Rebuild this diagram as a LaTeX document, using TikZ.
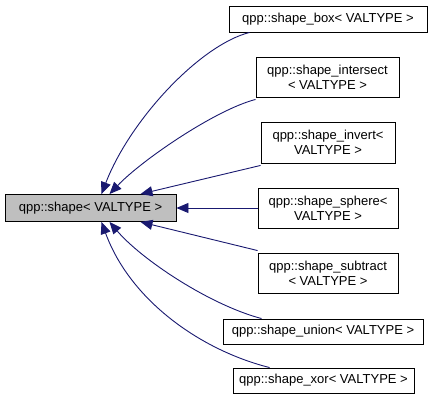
\documentclass[tikz,border=0pt]{standalone}
\usepackage{fontspec}
\setmainfont{Liberation Sans}
\usetikzlibrary{arrows.meta}
\definecolor{edgeblue}{HTML}{191970}
\tikzset{
  cls/.style={draw=black, line width=0.9pt, fill=white, inner sep=0pt, align=center,
    font=\fontsize{13}{15}\selectfont},
  edge/.style={draw=edgeblue, line width=0.9pt, -{Triangle[length=12pt,width=10pt]}},
}
\begin{document}
\begin{tikzpicture}[x=1pt,y=-1pt]
\useasboundingbox (0,0) rectangle (437,401);
\node[cls, fill={rgb,255:red,191;green,191;blue,191}, minimum width=171pt, minimum height=27pt] (base) at (90.5,208) {qpp::shape{<} VALTYPE {>}};
\node[cls, minimum width=198pt, minimum height=26pt] (box) at (328,19) {qpp::shape\_box{<} VALTYPE {>}};
\node[cls, minimum width=143pt, minimum height=40pt] (int) at (327.5,77) {qpp::shape\_intersect\\{<} VALTYPE {>}};
\node[cls, minimum width=134pt, minimum height=41pt] (inv) at (328,142.5) {qpp::shape\_invert{<}\\VALTYPE {>}};
\node[cls, minimum width=140pt, minimum height=40pt] (sph) at (328,208) {qpp::shape\_sphere{<}\\VALTYPE {>}};
\node[cls, minimum width=140pt, minimum height=40pt] (sub) at (328,273) {qpp::shape\_subtract\\{<} VALTYPE {>}};
\node[cls, minimum width=200pt, minimum height=25pt] (uni) at (323,331.5) {qpp::shape\_union{<} VALTYPE {>}};
\node[cls, minimum width=181pt, minimum height=25pt] (xor) at (323.5,380.5) {qpp::shape\_xor{<} VALTYPE {>}};

\draw[edge] ([xshift=21pt]box.south west) .. controls (200,45) and (130,120) .. ([xshift=11pt]base.north);
\draw[edge] ([yshift=-2pt]int.south west) .. controls (215,110) and (142,160) .. ([xshift=19pt]base.north);
\draw[edge] ([yshift=-2pt]inv.south west) -- ([xshift=50pt]base.north);
\draw[edge] (sph.west) -- (base.east);
\draw[edge] ([yshift=2pt]sub.north west) -- ([xshift=50pt]base.south);
\draw[edge] ([xshift=39pt]uni.north west) .. controls (210,305) and (142,260) .. ([xshift=19pt]base.south);
\draw[edge] ([xshift=37pt]xor.north west) .. controls (200,350) and (130,300) .. ([xshift=11pt]base.south);
\end{tikzpicture}
\end{document}
